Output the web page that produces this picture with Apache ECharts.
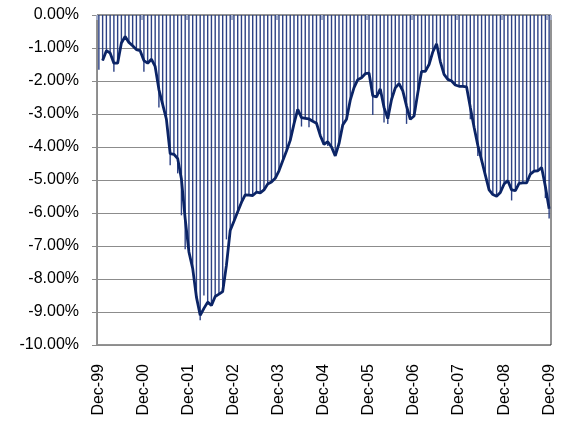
<!DOCTYPE html>
<html>
<head>
<meta charset="utf-8">
<script src="https://cdn.jsdelivr.net/npm/echarts@6/dist/echarts.min.js"></script>
<style>
  html, body { margin: 0; padding: 0; background: #fff; }
  #chart { width: 569px; height: 421px; }
</style>
</head>
<body>
<div id="chart"></div>
<script>
// Year-end labels shown on the time axis (one every 12 months)
const yearLabels = ['Dec-99', 'Dec-00', 'Dec-01', 'Dec-02', 'Dec-03', 'Dec-04',
                    'Dec-05', 'Dec-06', 'Dec-07', 'Dec-08', 'Dec-09'];
const monthNames = ['Jan', 'Feb', 'Mar', 'Apr', 'May', 'Jun',
                    'Jul', 'Aug', 'Sep', 'Oct', 'Nov'];

// Month-end drawdown (%), Dec-99 .. Dec-09
const drawdown = [
  null, -1.38, -1.08, -1.15, -1.46, -1.46, -0.85, -0.65, -0.83, -0.93, -1.05, -1.08,
  -1.38, -1.46, -1.34, -1.56, -2.26, -2.71, -3.16, -4.20, -4.22, -4.35, -4.97, -6.17,
  -7.18, -7.68, -8.55, -9.10, -8.89, -8.70, -8.80, -8.53, -8.46, -8.38, -7.58, -6.53,
  -6.25, -5.96, -5.68, -5.45, -5.46, -5.47, -5.37, -5.39, -5.30, -5.12, -5.06, -4.95,
  -4.72, -4.42, -4.12, -3.80, -3.30, -2.86, -3.11, -3.13, -3.15, -3.22, -3.28, -3.65,
  -3.92, -3.84, -4.00, -4.27, -3.90, -3.33, -3.16, -2.58, -2.20, -1.96, -1.90, -1.78,
  -1.76, -2.45, -2.48, -2.24, -2.80, -3.14, -2.56, -2.21, -2.08, -2.30, -2.76, -3.16,
  -3.06, -2.36, -1.71, -1.71, -1.50, -1.12, -0.87, -1.41, -1.80, -1.95, -2.00, -2.12,
  -2.16, -2.16, -2.18, -2.80, -3.40, -3.95, -4.40, -4.85, -5.30, -5.44, -5.49, -5.38,
  -5.12, -5.02, -5.30, -5.32, -5.10, -5.09, -5.09, -4.82, -4.73, -4.72, -4.62, -5.20,
  -5.87
];

// Deepest drawdown reached within each month (%)
const intraMonthLow = [
  -1.66, -1.38, -1.08, -1.15, -1.72, -1.46, -0.85, -0.65, -0.83, -0.93, -1.05, -1.08,
  -1.72, -1.46, -1.34, -1.56, -2.80, -2.71, -3.16, -4.55, -4.22, -4.80, -6.07, -7.10,
  -7.18, -7.68, -8.55, -9.25, -8.50, -8.70, -8.80, -8.53, -8.46, -8.38, -6.80, -6.53,
  -6.25, -5.96, -5.68, -5.45, -5.46, -5.47, -5.37, -5.39, -5.30, -5.12, -5.06, -4.95,
  -4.72, -4.42, -4.12, -3.80, -3.30, -2.86, -3.38, -3.13, -3.40, -3.22, -3.28, -3.65,
  -3.92, -3.97, -4.00, -4.27, -3.90, -3.33, -3.16, -2.58, -2.20, -1.96, -1.90, -1.78,
  -1.76, -3.03, -2.48, -2.24, -3.26, -3.30, -2.56, -2.21, -2.08, -2.30, -3.30, -3.16,
  -3.06, -2.36, -1.71, -1.71, -1.50, -1.12, -0.87, -1.41, -1.80, -1.95, -2.00, -2.12,
  -2.16, -2.16, -2.18, -3.16, -3.40, -4.27, -4.40, -4.85, -5.30, -5.44, -5.49, -5.38,
  -5.12, -5.02, -5.62, -5.32, -5.10, -5.09, -5.09, -4.82, -4.73, -4.72, -4.62, -5.55,
  -6.17
];

// Monthly category names: Dec-99, Jan-00, ..., Dec-09
const categories = [];
yearLabels.forEach(function (lbl, y) {
  categories.push(lbl);
  if (y < yearLabels.length - 1) {
    const yy = yearLabels[y + 1].slice(4);
    monthNames.forEach(function (m) { categories.push(m + '-' + yy); });
  }
});

const textFont = { fontFamily: 'Liberation Sans', fontSize: 16, color: '#000' };

const chart = echarts.init(document.getElementById('chart'), null, { renderer: 'canvas' });
chart.setOption({
  animation: false,
  backgroundColor: '#fff',
  grid: {
    left: 97, right: 18, top: 15, bottom: 76,
    show: true, borderColor: '#262626', borderWidth: 1,
    outerBoundsMode: 'none'
  },
  xAxis: [
    {
      type: 'category',
      data: categories,
      position: 'bottom',
      boundaryGap: true,
      axisLine: { show: true, lineStyle: { color: '#404040', width: 1 } },
      axisTick: { show: false },
      axisLabel: Object.assign({ interval: 11, rotate: 90, margin: 19 }, textFont),
      splitLine: { show: false }
    },
    {
      type: 'category',
      data: categories,
      position: 'top',
      boundaryGap: true,
      axisLine: { show: true, lineStyle: { color: '#8c8c8c', width: 1 } },
      axisTick: { show: true, inside: true, length: 5, interval: 11,
                  lineStyle: { color: '#a6afc8', width: 2 } },
      axisLabel: { show: false },
      splitLine: { show: false }
    }
  ],
  yAxis: {
    type: 'value',
    min: -10, max: 0, interval: 1,
    axisLine: { show: true, lineStyle: { color: '#8c8c8c', width: 1 } },
    axisTick: { show: true, length: 5, lineStyle: { color: '#8c8c8c' } },
    axisLabel: Object.assign({
      margin: 18,
      formatter: function (v) { return (v === 0 ? 0 : v).toFixed(2) + '%'; }
    }, textFont),
    splitLine: { show: true, lineStyle: { color: '#8c8c8c', width: 1 } }
  },
  series: [
    {
      name: 'Intra-month low',
      type: 'bar',
      xAxisIndex: 0,
      data: intraMonthLow,
      barWidth: 1.4,
      itemStyle: { color: '#2c4185' },
      z: 2
    },
    {
      name: 'Drawdown',
      type: 'line',
      xAxisIndex: 0,
      data: drawdown,
      symbol: 'none',
      lineStyle: { color: '#0b2466', width: 2.8 },
      z: 3
    }
  ]
});
</script>
</body>
</html>
